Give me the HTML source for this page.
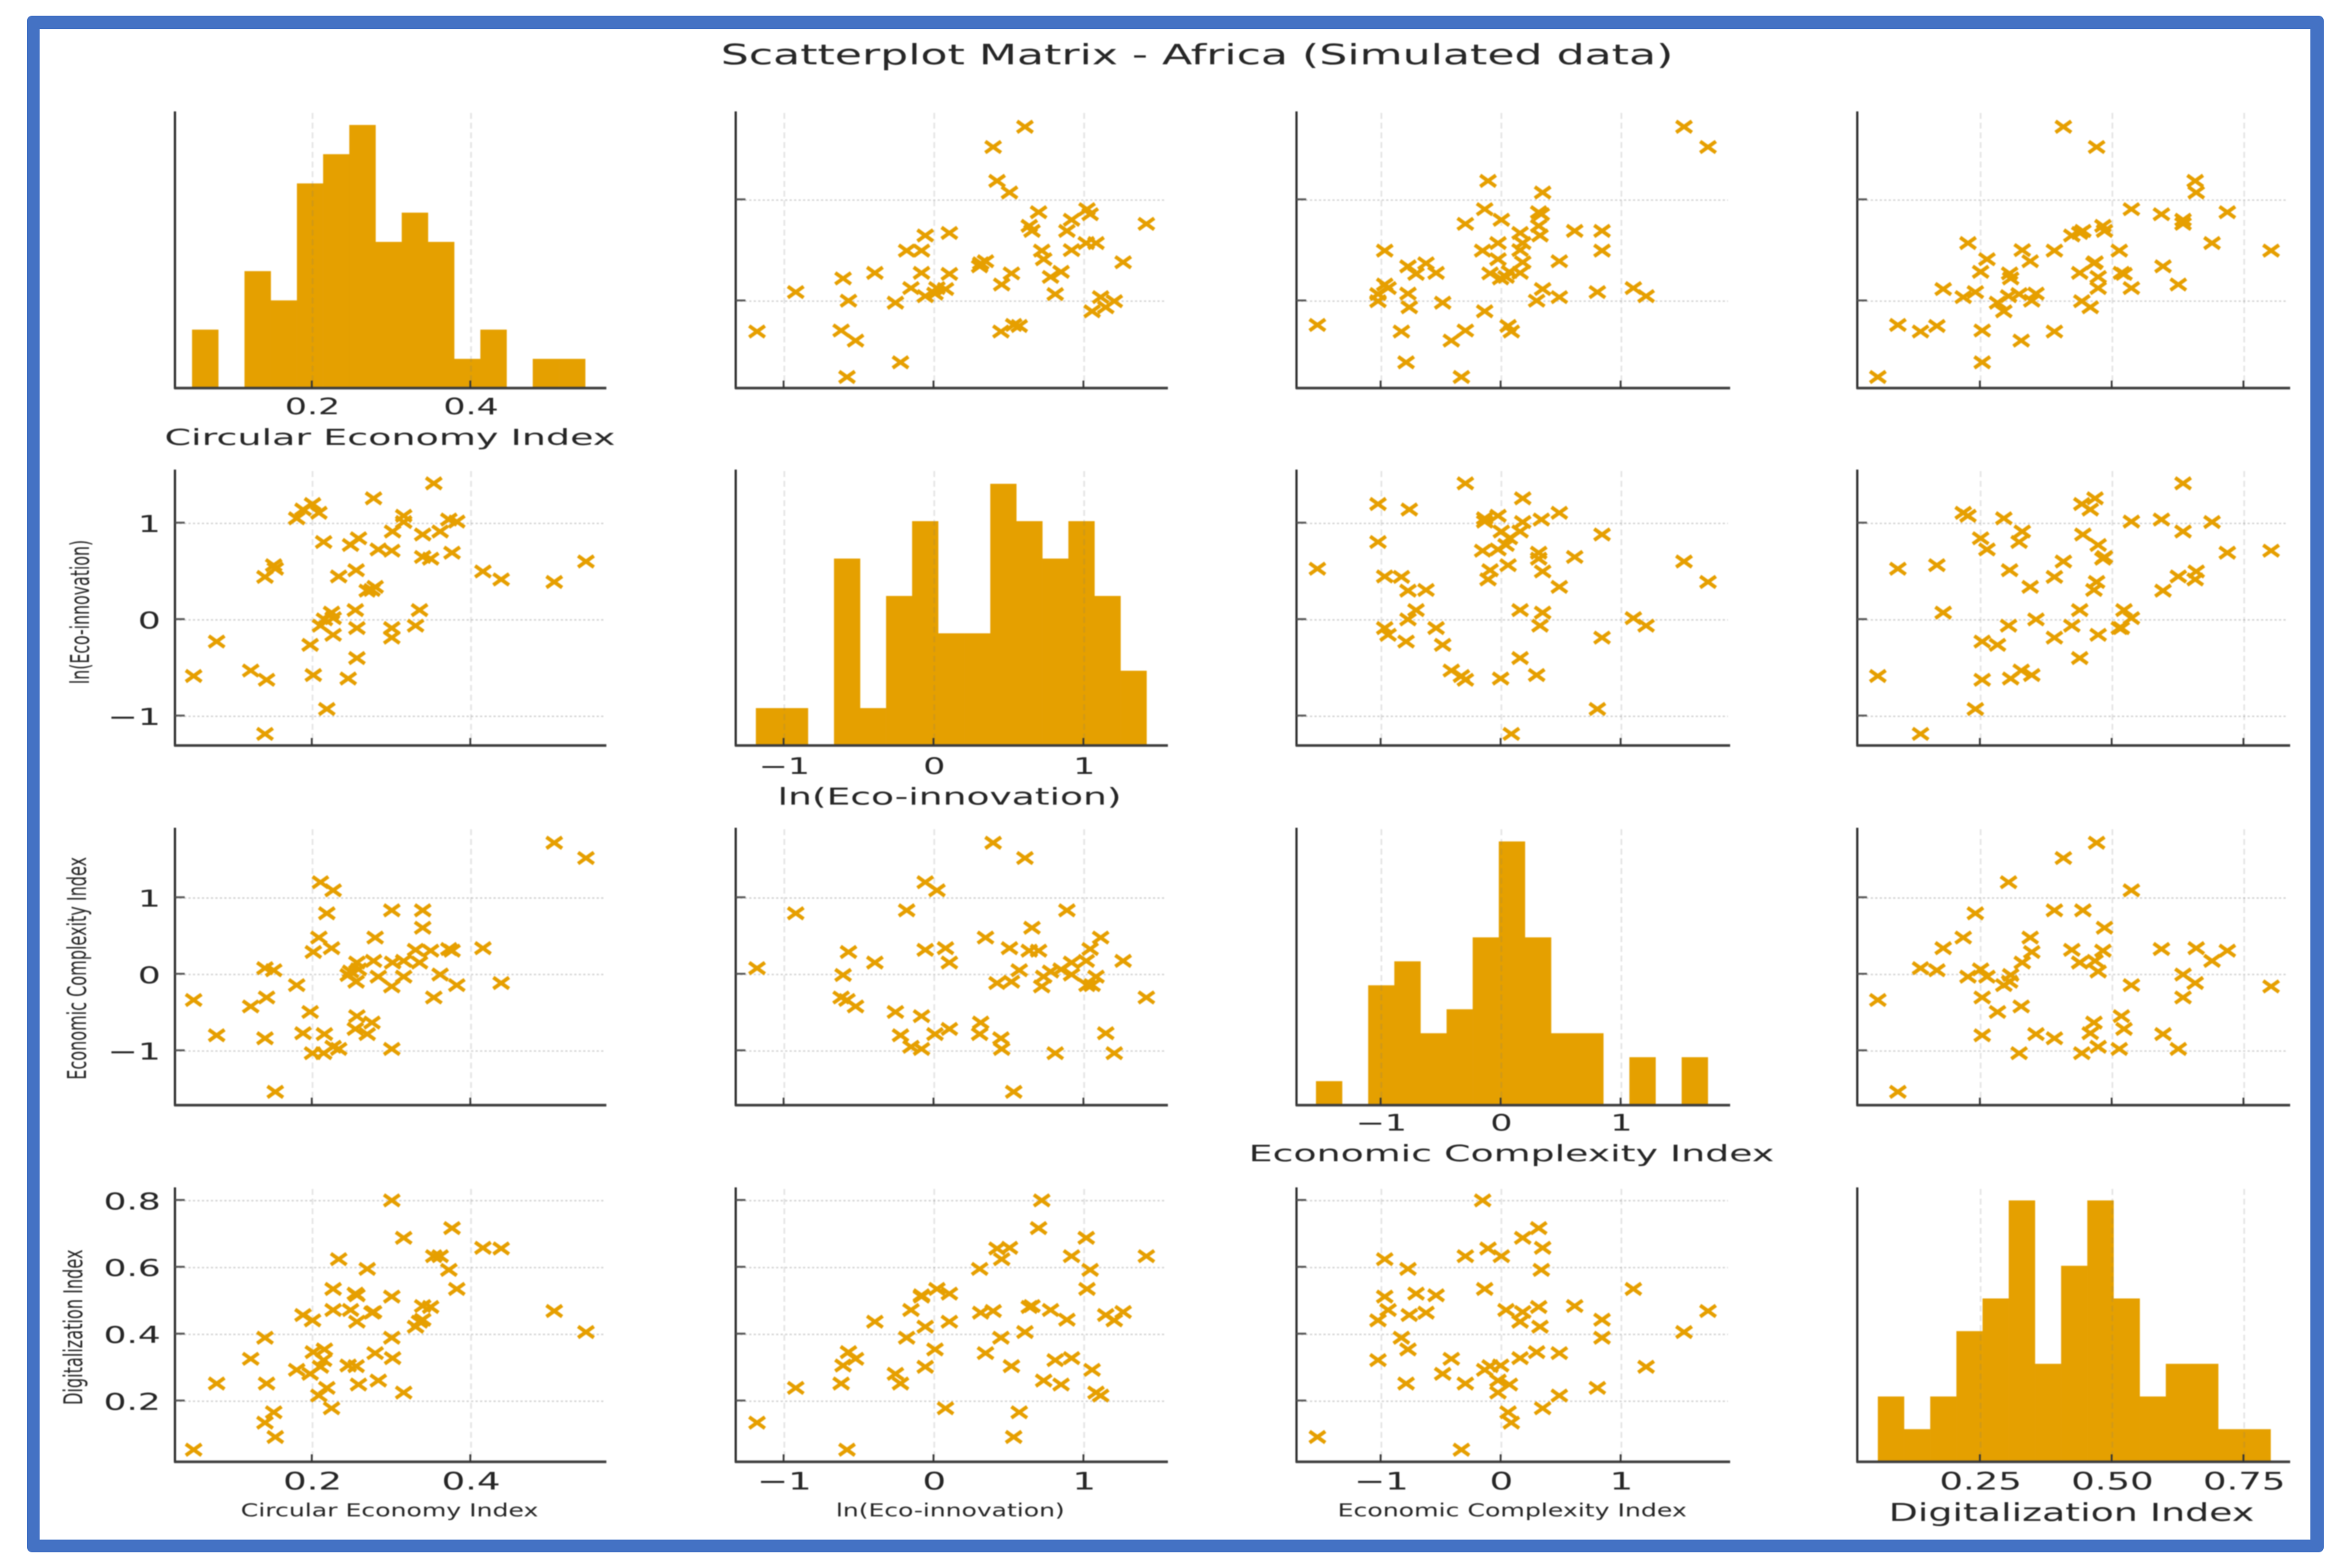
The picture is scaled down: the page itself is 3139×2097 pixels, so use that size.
<!DOCTYPE html>
<html lang="en">
<head>
<meta charset="utf-8">
<title>Scatterplot Matrix - Africa (Simulated data)</title>
<style>
  html, body { margin: 0; padding: 0; background: #fff; }
  svg { display: block; }
  text { font-family: "DejaVu Sans", "Liberation Sans", sans-serif; fill: #262626; }
  #plots { filter: blur(0.8px); }
</style>
</head>
<body>
<svg id="chart" xmlns="http://www.w3.org/2000/svg" width="3139" height="2097" viewBox="0 0 3139 2097">
  <rect x="0" y="0" width="3139" height="2097" fill="#ffffff"/>
  <rect x="36" y="21" width="3072" height="2055" rx="7" fill="#4472C4"/>
  <rect x="53" y="39" width="3037" height="2020" fill="#ffffff"/>
  <g id="plots"></g>
  <g id="labels" style="filter: blur(0.7px)">
    <text x="964" y="86" font-size="37" textLength="1274" lengthAdjust="spacingAndGlyphs" fill="#333">Scatterplot Matrix - Africa (Simulated data)</text>
    <text x="220" y="595" font-size="29" textLength="603" lengthAdjust="spacingAndGlyphs">Circular Economy Index</text>
    <text x="1040" y="1076" font-size="31" textLength="460" lengthAdjust="spacingAndGlyphs">ln(Eco-innovation)</text>
    <text x="1670" y="1553" font-size="30" textLength="703" lengthAdjust="spacingAndGlyphs">Economic Complexity Index</text>
    <text x="2526" y="2034" font-size="33" textLength="489" lengthAdjust="spacingAndGlyphs">Digitalization Index</text>
    <text x="322" y="2028" font-size="24" textLength="398" lengthAdjust="spacingAndGlyphs" fill="#333">Circular Economy Index</text>
    <text x="1118" y="2028" font-size="24" textLength="306" lengthAdjust="spacingAndGlyphs" fill="#333">ln(Eco-innovation)</text>
    <text x="1789" y="2028" font-size="24" textLength="467" lengthAdjust="spacingAndGlyphs" fill="#333">Economic Complexity Index</text>
    <text transform="translate(119,915) rotate(-90)" font-size="35" textLength="193" lengthAdjust="spacingAndGlyphs" fill="#333">ln(Eco-innovation)</text>
    <text transform="translate(115,1444) rotate(-90)" font-size="35" textLength="298" lengthAdjust="spacingAndGlyphs" fill="#333">Economic Complexity Index</text>
    <text transform="translate(110,1879) rotate(-90)" font-size="35" textLength="208" lengthAdjust="spacingAndGlyphs" fill="#333">Digitalization Index</text>
  </g>
</svg>
<script>
// ---- data: one entry per country, in the same order in every array ----
const circularEconomy = [0.353,0.277,0.200,0.188,0.208,0.315,0.180,0.372,0.382,0.315,0.301,0.361,0.339,0.258,0.214,0.248,0.283,0.376,0.300,0.339,0.349,0.545,0.151,0.153,0.415,0.255,0.505,0.438,0.140,0.233,0.279,0.269,0.275,0.335,0.254,0.224,0.226,0.210,0.330,0.215,0.256,0.300,0.079,0.226,0.300,0.197,0.256,0.050,0.122,0.142,0.201,0.245,0.218,0.140];
const ecoInnovation = [1.415,1.260,1.201,1.144,1.110,1.079,1.053,1.040,1.019,1.014,0.916,0.916,0.885,0.846,0.807,0.776,0.730,0.696,0.717,0.652,0.634,0.605,0.567,0.530,0.502,0.515,0.393,0.419,0.445,0.450,0.342,0.303,0.310,0.101,0.101,0.075,0.018,-0.060,-0.060,0.005,-0.085,-0.085,-0.225,-0.155,-0.184,-0.259,-0.396,-0.582,-0.525,-0.621,-0.572,-0.608,-0.924,-1.182];
const economicComplexity = [-0.300,0.178,-1.028,-0.767,0.483,-0.028,-0.139,0.333,-0.139,0.178,0.156,0.000,0.839,0.067,-1.028,0.039,-0.028,0.311,-0.156,0.611,0.311,1.522,0.056,-1.533,0.344,-0.094,1.722,-0.111,-0.833,-0.972,0.483,-0.778,-0.628,0.156,-0.711,0.344,1.100,1.206,0.322,-0.778,-0.544,-0.972,-0.794,-0.944,0.839,-0.489,0.156,-0.333,-0.417,-0.300,0.294,-0.006,0.800,0.083];
const digitalization = [0.634,0.467,0.442,0.458,0.217,0.226,0.294,0.593,0.536,0.689,0.329,0.634,0.444,0.250,0.323,0.473,0.262,0.718,0.801,0.485,0.482,0.407,0.167,0.093,0.659,0.305,0.470,0.657,0.390,0.625,0.344,0.596,0.465,0.438,0.522,0.179,0.536,0.303,0.423,0.355,0.517,0.513,0.253,0.473,0.390,0.282,0.438,0.055,0.327,0.253,0.347,0.307,0.240,0.136];

// ---- histogram counts (15 bins per variable) and data ranges ----
const circularEconomyCounts = [2,0,4,3,7,8,9,5,6,5,1,2,0,1,1];
const ecoInnovationCounts = [1,1,0,5,1,4,6,3,3,7,6,5,6,4,2];
const economicComplexityCounts = [1,0,5,6,3,4,7,11,7,3,3,0,2,0,2];
const digitalizationCounts = [2,1,2,4,5,8,3,6,8,5,2,3,3,1,1];
const circularEconomyRange = [0.048,0.544];
const ecoInnovationRange = [-1.19,1.416];
const economicComplexityRange = [-1.545,1.72];
const digitalizationRange = [0.055,0.80];

// ---- tick values and labels ----
const circularEconomyTicks = [0.2,0.4];
const circularEconomyTickLabels = ["0.2","0.4"];
const ecoInnovationTicks = [-1,0,1];
const ecoInnovationTickLabels = ["\u22121","0","1"];
const economicComplexityTicks = [-1,0,1];
const economicComplexityTickLabels = ["\u22121","0","1"];
const digitalizationXTicks = [0.25,0.50,0.75];
const digitalizationXTickLabels = ["0.25","0.50","0.75"];
const digitalizationYTicks = [0.2,0.4,0.6,0.8];
const digitalizationYTickLabels = ["0.2","0.4","0.6","0.8"];

// ---- axis functions ----
function xCircular(v){ return 418 + (v - 0.2) * 1060; }
function xEco(v){ return 1249.5 + v * 200.5; }
function xComplexity(v){ return 2008 + v * 160.5; }
function xDigital(v){ return 2649 + (v - 0.25) * 705; }
function yCircular(v){ return 402.8 - (v - 0.2) * 676; }
function yEco(v){ return 829 - v * 129; }
function yComplexity(v){ return 1303.3 - v * 102.35; }
function yDigital(v){ return 1874 - (v - 0.2) * 447; }

const variables = [
  { key:'circular-economy', values:circularEconomy, counts:circularEconomyCounts, range:circularEconomyRange, x:xCircular, y:yCircular, xTicks:circularEconomyTicks, xLabels:circularEconomyTickLabels, yTicks:circularEconomyTicks, yLabels:circularEconomyTickLabels, left:234, right:811 },
  { key:'eco-innovation', values:ecoInnovation, counts:ecoInnovationCounts, range:ecoInnovationRange, x:xEco, y:yEco, xTicks:ecoInnovationTicks, xLabels:ecoInnovationTickLabels, yTicks:ecoInnovationTicks, yLabels:ecoInnovationTickLabels, left:984, right:1562, top:628, bottom:997, unit:50 },
  { key:'economic-complexity', values:economicComplexity, counts:economicComplexityCounts, range:economicComplexityRange, x:xComplexity, y:yComplexity, xTicks:economicComplexityTicks, xLabels:economicComplexityTickLabels, yTicks:economicComplexityTicks, yLabels:economicComplexityTickLabels, left:1734, right:2314, top:1107, bottom:1478, unit:32.06 },
  { key:'digitalization', values:digitalization, counts:digitalizationCounts, range:digitalizationRange, x:xDigital, y:yDigital, xTicks:digitalizationXTicks, xLabels:digitalizationXTickLabels, yTicks:digitalizationYTicks, yLabels:digitalizationYTickLabels, left:2484, right:3063, top:1588, bottom:1955, unit:43.7 }
];
variables[0].top = 149;
variables[0].bottom = 519;
variables[0].unit = 39.1;

const NS = 'http://www.w3.org/2000/svg';
const plots = document.getElementById('plots');
const labelLayer = document.getElementById('labels');
const ORANGE = '#E69F00';
const tickStretch = 1.55;

function make(tag, attrs, parent){
  const el = document.createElementNS(NS, tag);
  for (const k in attrs) el.setAttribute(k, attrs[k]);
  parent.appendChild(el);
  return el;
}

function drawPanel(rowVar, colVar, r, c){
  const left = colVar.left, right = colVar.right, top = rowVar.top, bottom = rowVar.bottom;
  const diag = r === c;
  const panel = make('g', {}, plots);
  
  

  // horizontal grid + y ticks (scatter panels only)
  const gridH = make('g', {}, panel);
  
  
  if (!diag) {
    rowVar.yTicks.forEach(function(t){
      const py = rowVar.y(t);
      const line = make('line', {x1:left, x2:right-3, y1:py, y2:py, stroke:'#d4d4d4', 'stroke-width':2, 'stroke-dasharray':'3 3'}, gridH);
      
      
    });
  }

  // histogram bars
  if (diag) {
    const n = colVar.counts.length;
    const step = (colVar.range[1] - colVar.range[0]) / n;
    colVar.counts.forEach(function(count, i){
      if (!count) return;
      const x0 = colVar.x(colVar.range[0] + i * step);
      const x1 = colVar.x(colVar.range[0] + (i + 1) * step);
      const h = count * colVar.unit;
      const bar = make('rect', {x:x0, y:bottom-h, width:x1-x0+0.3, height:h, fill:'#E5A000'}, panel);
      
      
    });
  }

  // vertical grid
  const gridV = make('g', {}, panel);
  
  
  colVar.xTicks.forEach(function(t){
    const px = colVar.x(t);
    const line = make('line', {x1:px, x2:px, y1:top+2, y2:bottom, stroke:'rgba(120,120,120,0.2)', 'stroke-width':2.2, 'stroke-dasharray':'8 5'}, gridV);
    
    
  });

  // scatter points
  if (!diag) {
    colVar.values.forEach(function(v, i){
      const px = colVar.x(v);
      const py = rowVar.y(rowVar.values[i]);
      const d = 'M' + (px-10.5) + ',' + (py-7.5) + 'L' + (px+10.5) + ',' + (py+7.5) + 'M' + (px-10.5) + ',' + (py+7.5) + 'L' + (px+10.5) + ',' + (py-7.5);
      const pt = make('path', {d:d, fill:'none', stroke:ORANGE, 'stroke-width':5}, panel);
      
      
    });
  }

  // spines
  const spineL = make('line', {x1:left, x2:left, y1:top, y2:bottom+1, stroke:'#2e2e2e', 'stroke-width':3}, panel);
  
  
  const spineB = make('line', {x1:left-1, x2:right, y1:bottom, y2:bottom, stroke:'#3d3d3d', 'stroke-width':3.6}, panel);
  
  

  // x ticks
  colVar.xTicks.forEach(function(t){
    const px = colVar.x(t) - 1;
    const tick = make('line', {x1:px, x2:px, y1:bottom-10, y2:bottom, stroke:'#333', 'stroke-width':2.4}, panel);
    
    
  });
  // y ticks
  if (!diag) {
    rowVar.yTicks.forEach(function(t){
      const py = rowVar.y(t) - 1;
      const tick = make('line', {x1:left, x2:left+13, y1:py, y2:py, stroke:'#555', 'stroke-width':2.6}, panel);
      
      
    });
  }

  // x tick labels: diagonal panels and bottom row
  if (diag || r === 3) {
    const baseline = bottom + (r === 0 ? 35 : r === 1 ? 38 : r === 2 ? 34 : 37);
    colVar.xTicks.forEach(function(t, i){
      const px = colVar.x(t);
      const tx = make('text', {transform:'translate(' + px + ',' + baseline + ') scale(' + tickStretch + ',1)', 'text-anchor':'middle', 'font-size':r === 3 ? 32 : 30}, labelLayer);
      tx.textContent = colVar.xLabels[i];
      
      
    });
  }
  // y tick labels: first column, rows 1..3
  if (c === 0 && r > 0) {
    rowVar.yTicks.forEach(function(t, i){
      const py = rowVar.y(t) + 11.5;
      const tx = make('text', {transform:'translate(215,' + py + ') scale(' + tickStretch + ',1)', 'text-anchor':'end', 'font-size':31}, labelLayer);
      tx.textContent = rowVar.yLabels[i];
      
      
    });
  }
}

variables.forEach(function(rowVar, r){
  variables.forEach(function(colVar, c){
    drawPanel(rowVar, colVar, r, c);
  });
});
</script>
</body>
</html>
